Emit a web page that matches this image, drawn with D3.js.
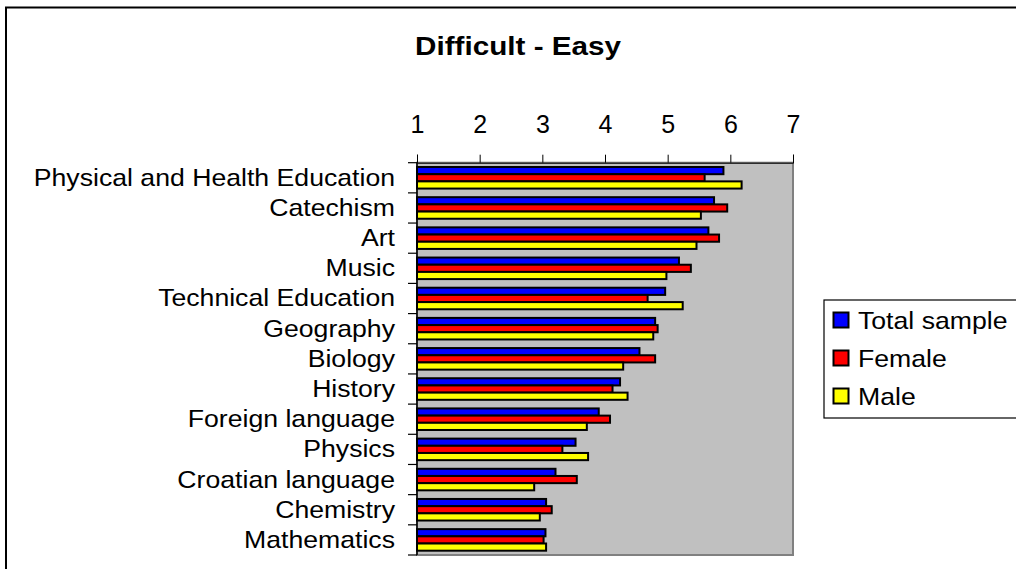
<!DOCTYPE html>
<html>
<head>
<meta charset="utf-8">
<script src="https://cdn.jsdelivr.net/npm/d3@7"></script>
<style>
  html, body { margin: 0; padding: 0; background: #fff; }
  svg { display: block; }
  text { font-family: Arial, "Liberation Sans", sans-serif; fill: #000; }
</style>
</head>
<body>
<svg id="chart" width="1016" height="569"></svg>
<script>
const categories = [
  "Physical and Health Education", "Catechism", "Art", "Music",
  "Technical Education", "Geography", "Biology", "History",
  "Foreign language", "Physics", "Croatian language", "Chemistry", "Mathematics"
];
const seriesNames = ["Total sample", "Female", "Male"];
const seriesColors = ["#0000FF", "#FF0000", "#FFFF00"];
const totalSample = [5.89, 5.74, 5.65, 5.18, 4.96, 4.80, 4.55, 4.24, 3.90, 3.53, 3.21, 3.06, 3.05];
const female      = [5.59, 5.95, 5.82, 5.37, 4.68, 4.84, 4.80, 4.12, 4.08, 3.32, 3.55, 3.15, 3.02];
const male        = [6.18, 5.53, 5.46, 4.98, 5.24, 4.77, 4.29, 4.36, 3.71, 3.73, 2.87, 2.96, 3.06];
const xTicks = [1, 2, 3, 4, 5, 6, 7];
const title = "Difficult - Easy";

const seriesValues = [totalSample, female, male];
const svg = d3.select("#chart");

// outer chart border (right/bottom extend beyond view)
svg.append("rect").attr("x", 6).attr("y", 7.5).attr("width", 1030).attr("height", 580)
  .attr("fill", "none").attr("stroke", "#000").attr("stroke-width", 2);

const x = d3.scaleLinear().domain([1, 7]).range([417, 793]);
const y = d3.scaleBand().domain(categories).range([162.7, 555]).paddingInner(0).paddingOuter(0);
const ySub = d3.scaleBand().domain(seriesNames).range([0, y.bandwidth()]).paddingInner(0).paddingOuter(0.6);

// plot area
svg.append("rect").attr("x", x(1)).attr("y", 162.7).attr("width", x(7) - x(1)).attr("height", 555 - 162.7)
  .attr("fill", "#C0C0C0").attr("stroke", "#808080").attr("stroke-width", 2);

// bars
categories.forEach((c, i) => {
  seriesNames.forEach((s, j) => {
    svg.append("rect")
      .attr("x", x(1))
      .attr("y", y(c) + ySub(s))
      .attr("width", x(seriesValues[j][i]) - x(1))
      .attr("height", ySub.bandwidth())
      .attr("fill", seriesColors[j])
      .attr("stroke", "#000")
      .attr("stroke-width", 2);
  });
});

// top value axis
const xAxis = d3.axisTop(x).tickValues(xTicks).tickSize(8).tickFormat(d3.format("d"));
const gx = svg.append("g").attr("transform", "translate(0,162.7)").call(xAxis);
gx.select(".domain").attr("stroke", "#000").attr("stroke-width", 1);
gx.selectAll(".tick line").attr("stroke", "#000");
gx.selectAll(".tick text").attr("font-size", "25px").attr("y", -29.5).attr("dy", 0)
  .attr("font-family", 'Arial, "Liberation Sans", sans-serif').attr("fill", "#000");

// left category axis: ticks at boundaries
const boundaries = categories.map(c => y(c)).concat([y.range()[1]]);
svg.append("g").selectAll("line").data(boundaries).join("line")
  .attr("x1", x(1) - 9).attr("x2", x(1)).attr("y1", d => d).attr("y2", d => d)
  .attr("stroke", "#000").attr("stroke-width", 1.2);
svg.append("line").attr("x1", x(1)).attr("x2", x(1)).attr("y1", 162.7).attr("y2", 555)
  .attr("stroke", "#000").attr("stroke-width", 1.5);

// category labels
svg.append("g").selectAll("text").data(categories).join("text")
  .attr("transform", d => `translate(395,${y(d) + y.bandwidth() / 2 + 8}) scale(1.11,1)`)
  .attr("text-anchor", "end").attr("font-size", "24px").text(d => d);

// title
svg.append("text").attr("transform", "translate(518,55) scale(1.12,1)")
  .attr("text-anchor", "middle").attr("font-size", "26.5px").attr("font-weight", "bold").text(title);

// legend
svg.append("rect").attr("x", 824).attr("y", 300).attr("width", 220).attr("height", 118)
  .attr("fill", "#fff").attr("stroke", "#000").attr("stroke-width", 1.2);
seriesNames.forEach((s, j) => {
  const base = 328.5 + j * 38;
  svg.append("rect").attr("x", 833.5).attr("y", base - 16).attr("width", 15).attr("height", 15)
    .attr("fill", seriesColors[j]).attr("stroke", "#000").attr("stroke-width", 2);
  svg.append("text").attr("transform", `translate(858,${base}) scale(1.11,1)`)
    .attr("font-size", "24px").text(s);
});
</script>
</body>
</html>
